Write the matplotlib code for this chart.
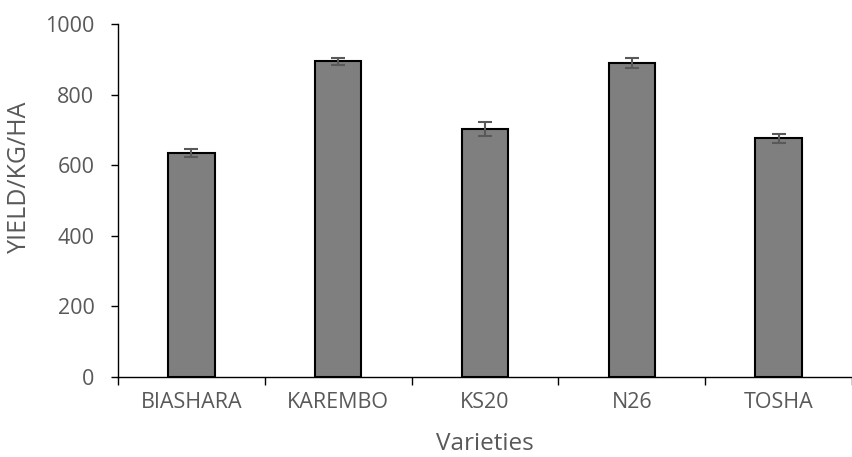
import numpy as np
import matplotlib.pyplot as plt

varieties = ['BIASHARA', 'KAREMBO', 'KS20', 'N26', 'TOSHA']
yield_kg_ha = [634, 895, 703, 890, 676]
yield_err = [12, 10, 19, 14, 12]

plt.rcParams['font.family'] = ['Open Sans', 'DejaVu Sans']
txt = '#595959'

fig = plt.figure(figsize=(8.53, 4.57), dpi=100)
ax = fig.add_axes([118/853, 80/457, 734/853, 353/457])

x = np.arange(len(varieties))
ax.bar(x, yield_kg_ha, width=0.315, color='#7f7f7f', edgecolor='black', linewidth=1.5,
       yerr=yield_err, error_kw=dict(ecolor='#595959', elinewidth=1.5, capsize=5, capthick=1.5))

ax.set_xlim(-0.5, 4.43)
ax.set_ylim(0, 1000)
ax.set_yticks(range(0, 1001, 200))
ax.set_xticks(x)
ax.set_xticklabels(varieties)
ax.set_xticks(np.arange(-0.5, 5, 1), minor=True)
ax.tick_params(axis='x', which='major', length=0, pad=11, labelsize=15.5, labelcolor=txt)
ax.tick_params(axis='x', which='minor', length=6, width=1, direction='out')
ax.tick_params(axis='y', length=5, width=1, pad=12, labelsize=15.5, labelcolor=txt)

for s in ['top', 'right']:
    ax.spines[s].set_visible(False)
for s in ['left', 'bottom']:
    ax.spines[s].set_linewidth(1)

ax.set_xlabel('Varieties', fontsize=17.5, color=txt)
ax.set_ylabel('YIELD/KG/HA', fontsize=18, color=txt)
ax.xaxis.set_label_coords(0.5, -0.155)
ax.yaxis.set_label_coords(-0.117, 0.567)

fig.savefig('out.png', dpi=100)
